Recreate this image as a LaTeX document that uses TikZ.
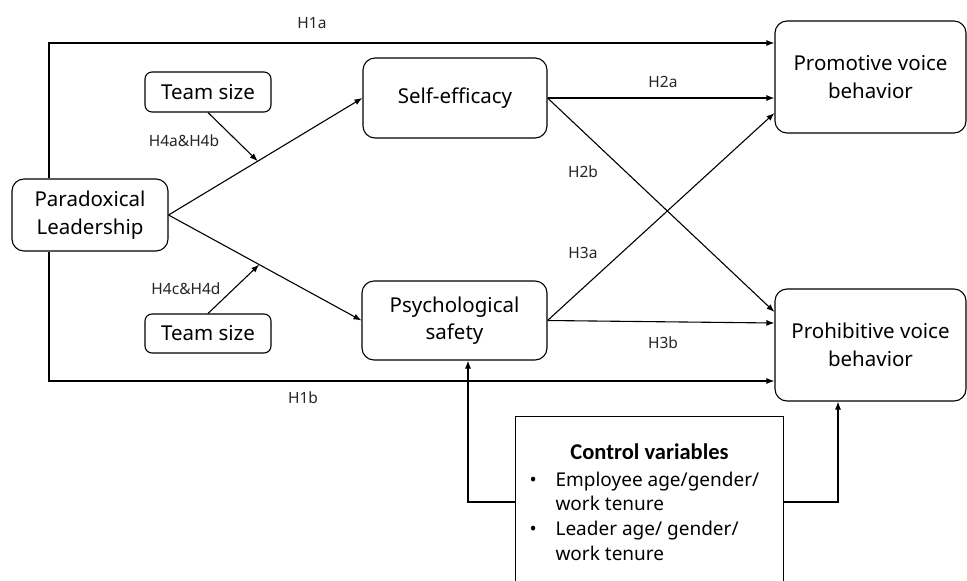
\documentclass[tikz,border=0pt]{standalone}
\usepackage{fontspec}
\setmainfont{Noto Sans}
\newfontfamily\headfont{Carlito}
\usetikzlibrary{arrows.meta,calc}
\begin{document}
\begin{tikzpicture}[x=1pt,y=-1pt,
  line width=1.1pt,
  box/.style={draw, rounded corners=12pt, inner sep=0pt, align=center,
    font=\fontsize{20.5}{27.5}\selectfont},
  tsbox/.style={draw, rounded corners=7pt, inner sep=0pt, align=center,
    minimum width=126pt, minimum height=40pt, font=\fontsize{20.5}{24}\selectfont},
  lbl/.style={inner sep=0pt, text=black!85, font=\fontsize{15.5}{18}\selectfont},
  arr/.style={-{Latex[length=8pt,width=6pt]}}]
\useasboundingbox (0,0) rectangle (967,581);

% nodes
\node[box, minimum width=156pt, minimum height=72pt] (PL) at (90,215) {Paradoxical\\Leadership};
\node[tsbox] (TS1) at (208,92) {Team size};
\node[tsbox, minimum height=39pt] (TS2) at (208,333.5) {Team size};
\node[box, minimum width=184pt, minimum height=80pt] (SE) at (455,98) {Self-efficacy};
\node[box, minimum width=185pt, minimum height=79pt] (PS) at (454.5,320.5) {Psychological\\safety};
\node[box, minimum width=191pt, minimum height=112pt] (PV) at (870.5,77) {Promotive voice\\behavior};
\node[box, minimum width=191pt, minimum height=112pt] (PH) at (870.5,345) {Prohibitive voice\\behavior};

% control variables box (open at the bottom)
\node[inner sep=0pt, minimum width=267pt, minimum height=170pt] (CV) at (649.5,502) {};
\draw (CV.south west) -- (CV.north west) -- (CV.north east) -- (CV.south east);
\node[inner sep=0pt, anchor=base, font=\headfont\bfseries\fontsize{22.5}{26}\selectfont] (CVh) at (649.5,459) {Control variables};
\node[inner sep=0pt, anchor=base west, font=\fontsize{19}{24.7}\selectfont] (CVl) at (529,486)
  {\begin{tabular}[t]{@{}p{26pt}@{}l@{}}
   \textbullet & Employee age/gender/\\
               & work tenure\\
   \textbullet & Leader age/ gender/\\
               & work tenure
   \end{tabular}};

% direct effects H1a / H1b
\coordinate (c1a) at (49,43);
\coordinate (c1b) at (49,381);
\draw[arr] (PL.north -| c1a) -- (c1a) -- (c1a -| PV.west);
\draw[arr] (PL.south -| c1b) -- (c1b) -- (c1b -| PH.west);

% leadership to mediators
\draw[arr] (PL.east) -- (SE.west) coordinate[pos=0.46] (m1);
\draw[arr] (PL.east) -- (PS.west) coordinate[pos=0.47] (m2);
\draw[arr] (TS1.south) -- (m1);
\draw[arr] (TS2.north) -- (m2);

% mediators to outcomes
\draw[arr] (SE.east) -- (SE.east -| PV.west);
\draw[arr] (SE.east) -- ([yshift=33pt]PH.west);
\draw[arr] (PS.east) -- ([yshift=-36pt]PV.west);
\draw[arr] (PS.east) -- ([yshift=22pt]PH.west);

% controls
\coordinate (cx1) at (468,0);
\coordinate (cx2) at (838,0);
\draw[arr] (CV.west) -| (cx1 |- PS.south);
\draw[arr] (CV.east) -| (cx2 |- PH.south);

% labels
\node[lbl] (l1a) at (312,23) {H1a};
\node[lbl] (l1b) at (303,398) {H1b};
\node[lbl] (l2a) at (663,82) {H2a};
\node[lbl] (l2b) at (583,172) {H2b};
\node[lbl] (l3a) at (583,253) {H3a};
\node[lbl] (l3b) at (663,343) {H3b};
\node[lbl] (l4a) at (184,141) {H4a\&H4b};
\node[lbl] (l4c) at (186,289) {H4c\&H4d};
\end{tikzpicture}
\end{document}
